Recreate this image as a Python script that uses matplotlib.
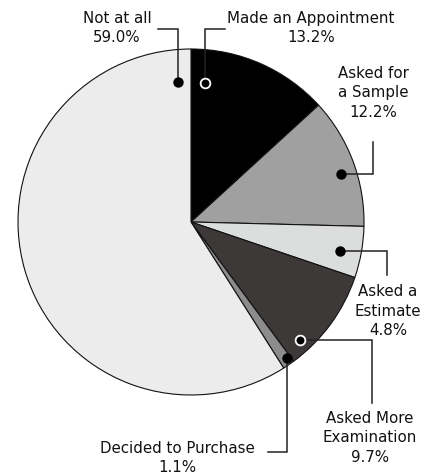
import matplotlib
matplotlib.use('Agg')
import matplotlib.pyplot as plt
import numpy as np

# response shares (%), clockwise from 12 o'clock
labels = ['Made an Appointment', 'Asked for\na Sample', 'Asked a\nEstimate',
          'Asked More\nExamination', 'Decided to Purchase', 'Not at all']
values = [13.2, 12.2, 4.8, 9.7, 1.1, 59.0]
colors = ['#000000', '#a0a0a0', '#dcdddd', '#3d3939', '#8c8c8c', '#ececec']

W, H = 438, 475
fig = plt.figure(figsize=(W / 100, H / 100), dpi=100)
ax = fig.add_axes([0, 0, 1, 1])

cx, cy, R = 191, H - 222, 173
wedges, _ = ax.pie(values, colors=colors, startangle=90, counterclock=False,
                   center=(cx, cy), radius=R,
                   wedgeprops=dict(edgecolor='#111111', linewidth=0.8))
ax.set_xlim(0, W)
ax.set_ylim(0, H)
ax.set_aspect('equal')
ax.axis('off')

# layout: where in the wedge the dot sits (fraction of sweep, fraction of radius),
# the elbow direction of the leader, its end point and the label centre (pixels, top-down)
dot_pos = [(0.12, 0.81), (0.56, 0.91), (0.55, 0.88), (0.82, 0.93), (0.30, 0.96), (0.975, 0.81)]
hollow = [True, False, False, True, False, False]
leader = [('v', 225, 29), ('h', 373, 142), ('h', 387, 275),
          ('h', 372, 403), ('v', 268, 452), ('v', 158, 29)]
text_pos = [(311, 28), (373, 93), (388, 311), (370, 438), (177, 458), (117, 28)]

start = 0.0
for i, v in enumerate(values):
    span = v / 100 * 360
    f, rf = dot_pos[i]
    a = np.radians(90 - (start + f * span))
    dx, dy = cx + rf * R * np.cos(a), cy + rf * R * np.sin(a)
    start += span

    mode, ex, ey = leader[i]
    ey = H - ey
    if mode == 'v':
        xs, ys = [dx, dx, ex], [dy, ey, ey]
    else:
        xs, ys = [dx, ex, ex], [dy, dy, ey]
    ax.plot(xs, ys, color='#222222', lw=1.1, solid_joinstyle='miter', zorder=3)
    if hollow[i]:
        ax.plot(dx, dy, 'o', ms=7, mfc='black', mec='white', mew=1.3, zorder=4)
    else:
        ax.plot(dx, dy, 'o', ms=7.5, mfc='black', mec='black', mew=0, zorder=4)

    tx, ty = text_pos[i]
    ax.text(tx, H - ty, f'{labels[i]}\n{v:.1f}%', ha='center', va='center',
            multialignment='center', fontsize=10.8, family='DejaVu Sans',
            linespacing=1.35, color='#111111')

fig.savefig('out.png', dpi=100)
